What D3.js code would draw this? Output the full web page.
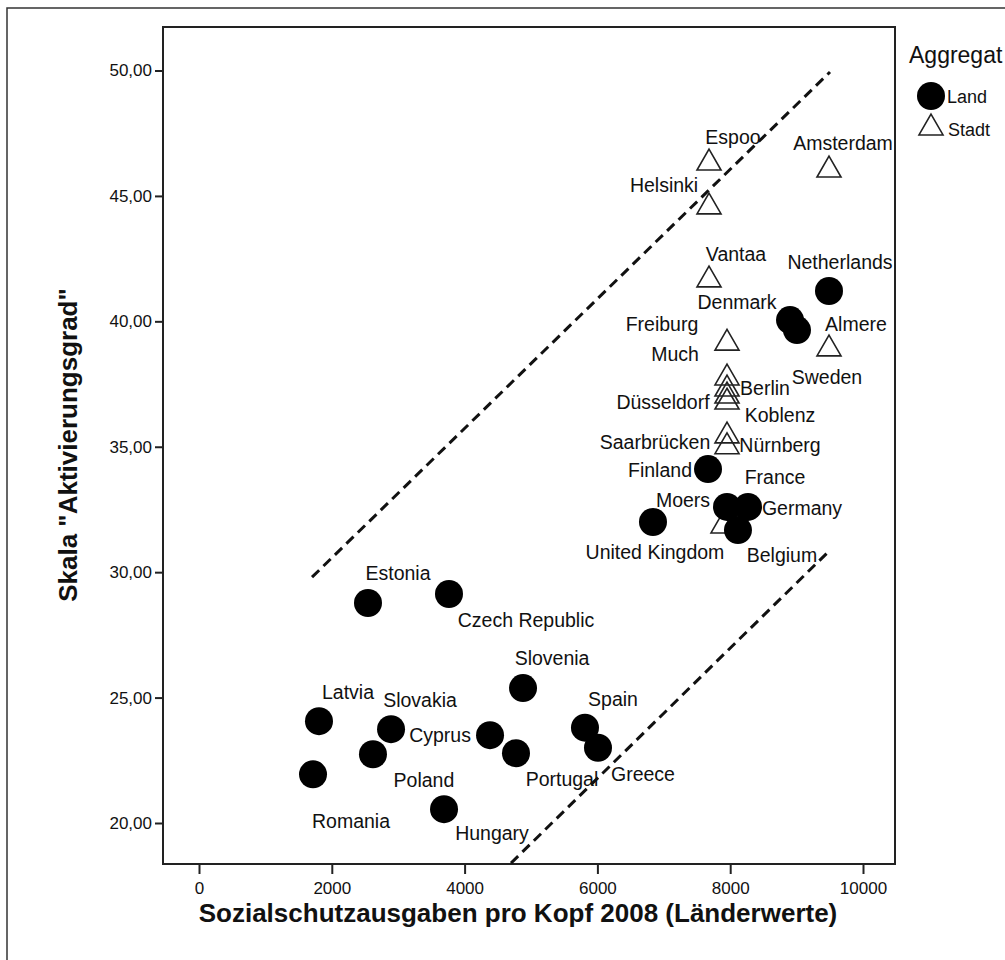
<!DOCTYPE html>
<html><head><meta charset="utf-8">
<script src="https://cdn.jsdelivr.net/npm/d3@7"></script>
<style>
html,body{margin:0;padding:0;background:#fff;}
text{font-family:Arial,"Liberation Sans",sans-serif;fill:#111;}
</style></head>
<body><svg id="c" width="1005" height="960"></svg>
<script>
// ---- data ----
const landNames = ["Netherlands","Denmark","Sweden","Finland","France","Germany","Belgium","United Kingdom","Estonia","Czech Republic","Slovenia","Latvia","Slovakia","Poland","Cyprus","Portugal","Romania","Hungary","Spain","Greece"];
const landX = [9488,8901,9006,7666,7952,8268,8117,6837,2545,3765,4880,1807,2892,2620,4383,4774,1717,3690,5813,6009];
const landY = [41.21,40.05,39.65,34.11,32.60,32.60,31.68,32.00,28.77,29.13,25.38,24.06,23.74,22.74,23.50,22.78,21.94,20.55,23.80,23.00];
const stadtNames = ["Amsterdam","Espoo","Helsinki","Vantaa","Almere","Freiburg","Much","Berlin","Düsseldorf","Koblenz","Saarbrücken","Nürnberg","Moers"];
const stadtX = [9488,7681,7681,7681,9488,7952,7952,7952,7952,7952,7952,7952,7892];
const stadtY = [46.03,46.31,44.56,41.65,38.90,39.13,37.74,37.30,37.02,36.78,35.43,35.00,31.84];
const xTicks = [0,2000,4000,6000,8000,10000];
const yTicks = [20,25,30,35,40,45,50];
const upperLineX = [1702, 9503], upperLineY = [29.80, 49.94];
const lowerLineX = [4699, 9458], lowerLineY = [18.40, 30.76];
const legendTitle = "Aggregat";
const legendItems = ["Land","Stadt"];
const xTitle = "Sozialschutzausgaben pro Kopf 2008 (Länderwerte)";
const yTitle = "Skala \"Aktivierungsgrad\"";

// ---- label placement (pixel offsets) ----
const labelOffsets = {
  "Netherlands":[11,-29],"Denmark":[-53,-18],"Sweden":[30,47],"Finland":[-48,1],"France":[48,-30],
  "Germany":[54,1],"Belgium":[44,25],"United Kingdom":[2,30],"Estonia":[30,-30],"Czech Republic":[77,26],
  "Slovenia":[29,-30],"Latvia":[29,-29],"Slovakia":[29,-29],"Poland":[51,26],"Cyprus":[-50,0],
  "Portugal":[46,26],"Romania":[38,47],"Hungary":[48,24],"Spain":[28,-29],"Greece":[45,26],
  "Amsterdam":[14,-27],"Espoo":[24,-26],"Helsinki":[-45,-22],"Vantaa":[27,-26],"Almere":[27,-25],
  "Freiburg":[-65,-19],"Much":[-52,-24],"Berlin":[38,-1],"Düsseldorf":[-64,6],"Koblenz":[53,13],
  "Saarbrücken":[-72,6],"Nürnberg":[53,-2],"Moers":[-40,-26]
};

const svg = d3.select("#c");
const frame = {l:163, r:895, t:27, b:864};
const x = d3.scaleLinear().domain([0,10000]).range([199,863]);
const y = d3.scaleLinear().domain([20,50]).range([823,70.5]);
const FONT = "Arial, 'Liberation Sans', sans-serif";

// outer border
svg.append("rect").attr("x",7).attr("y",8).attr("width",1100).attr("height",1100)
  .attr("fill","none").attr("stroke","#333").attr("stroke-width",1.5);

// clip
svg.append("clipPath").attr("id","clip").append("rect")
  .attr("x",frame.l).attr("y",frame.t).attr("width",frame.r-frame.l).attr("height",frame.b-frame.t);

// frame
svg.append("rect").attr("x",frame.l).attr("y",frame.t).attr("width",frame.r-frame.l).attr("height",frame.b-frame.t)
  .attr("fill","none").attr("stroke","#222").attr("stroke-width",2);

// axes
const xAxis = svg.append("g").attr("transform",`translate(0,${frame.b})`)
  .call(d3.axisBottom(x).tickValues(xTicks).tickSize(10).tickPadding(8).tickFormat(d3.format("d")));
xAxis.select(".domain").remove();
xAxis.selectAll("line").attr("stroke","#222").attr("stroke-width",2);
xAxis.selectAll("text").attr("font-size",17).attr("fill","#111").attr("font-family",FONT);

const yAxis = svg.append("g").attr("transform",`translate(${frame.l},0)`)
  .call(d3.axisLeft(y).tickValues(yTicks).tickSize(8).tickPadding(3).tickFormat(d => d3.format(".2f")(d).replace(".",",")));
yAxis.select(".domain").remove();
yAxis.selectAll("line").attr("stroke","#222").attr("stroke-width",2);
yAxis.selectAll("text").attr("font-size",17).attr("fill","#111").attr("font-family",FONT);

// titles
svg.append("text").attr("x",518).attr("y",913).attr("text-anchor","middle")
  .attr("dominant-baseline","central").attr("font-size",26).attr("font-weight","bold").text(xTitle);
svg.append("text").attr("transform",`translate(68,445) rotate(-90)`).attr("text-anchor","middle")
  .attr("dominant-baseline","central").attr("font-size",26).attr("font-weight","bold").text(yTitle);

const plot = svg.append("g").attr("clip-path","url(#clip)");

// dashed interval lines
const line = d3.line().x(d=>x(d[0])).y(d=>y(d[1]));
[[upperLineX,upperLineY],[lowerLineX,lowerLineY]].forEach(([xs,ys])=>{
  plot.append("path").datum(xs.map((v,i)=>[v,ys[i]])).attr("d",line)
    .attr("fill","none").attr("stroke","#111").attr("stroke-width",3).attr("stroke-dasharray","10,6");
});

const tri = d3.symbol(d3.symbolTriangle, 250);
const stadt = stadtNames.map((n,i)=>({n, x:stadtX[i], y:stadtY[i]}));
const land = landNames.map((n,i)=>({n, x:landX[i], y:landY[i]}));

plot.selectAll(".tri").data(stadt).join("path").attr("class","tri")
  .attr("transform",d=>`translate(${x(d.x)},${y(d.y)})`).attr("d",tri())
  .attr("fill","none").attr("stroke","#222").attr("stroke-width",1.6);
plot.selectAll(".dot").data(land).join("circle").attr("class","dot")
  .attr("cx",d=>x(d.x)).attr("cy",d=>y(d.y)).attr("r",14).attr("fill","#000");

// labels
svg.selectAll(".lbl").data(stadt.concat(land)).join("text").attr("class","lbl")
  .attr("x",d=>x(d.x)+labelOffsets[d.n][0]).attr("y",d=>y(d.y)+labelOffsets[d.n][1])
  .attr("text-anchor","middle").attr("dominant-baseline","central").attr("font-size",19.5).text(d=>d.n);

// legend
svg.append("text").attr("x",909).attr("y",55).attr("dominant-baseline","central").attr("font-size",23).text(legendTitle);
svg.append("circle").attr("cx",931).attr("cy",96).attr("r",14).attr("fill","#000");
svg.append("text").attr("x",947).attr("y",97).attr("dominant-baseline","central").attr("font-size",18).text(legendItems[0]);
svg.append("path").attr("transform","translate(931,128)").attr("d",tri()).attr("fill","none").attr("stroke","#222").attr("stroke-width",1.6);
svg.append("text").attr("x",948).attr("y",130).attr("dominant-baseline","central").attr("font-size",18).text(legendItems[1]);
</script></body></html>
